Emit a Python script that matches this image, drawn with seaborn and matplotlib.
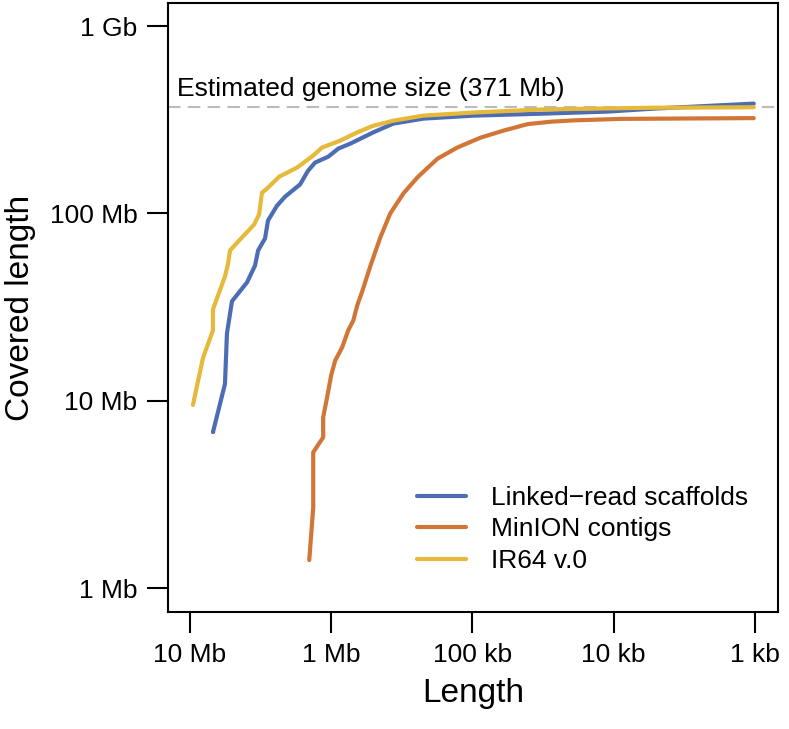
import numpy as np
import pandas as pd
import matplotlib
matplotlib.use("Agg")
import matplotlib.pyplot as plt
import seaborn as sns

# cumulative coverage curves, lengths and covered length in Mb
linked_len = [6.87, 5.65, 5.47, 5.04, 3.94, 3.46, 3.29, 2.94, 2.80, 2.42, 2.12, 1.80, 1.66,
              1.46, 1.30, 1.05, 0.891, 0.733, 0.504, 0.363, 0.223, 0.0984, 0.033, 0.011,
              0.0052, 0.00102]
linked_cov = [6.8, 12.3, 22.9, 34.0, 42.9, 52.8, 63.5, 73.6, 91.8, 110, 123, 136, 143,
              169, 187, 201, 222, 236, 271, 302, 321, 333, 341, 350, 363, 386]

minion_len = [1.43, 1.34, 1.34, 1.14, 1.14, 1.07, 1.0, 0.937, 0.836, 0.757, 0.698, 0.654,
              0.603, 0.530, 0.449, 0.382, 0.308, 0.245, 0.177, 0.128, 0.0877,
              0.0603, 0.0407, 0.0280, 0.0195, 0.0089, 0.00102]
minion_cov = [1.41, 2.70, 5.31, 6.38, 8.17, 10.4, 13.7, 16.4, 19.3, 23.8, 26.8, 32.3,
              38.4, 52.0, 74.5, 100, 128, 156, 196, 225, 254,
              277, 300, 309, 314, 320, 323]

ir64_len = [9.52, 8.09, 6.87, 6.87, 5.65, 5.37, 5.20, 4.42, 3.51, 3.24, 3.09, 2.84, 2.34,
            1.74, 1.34, 1.16, 0.863, 0.654, 0.504, 0.363, 0.223, 0.0984, 0.033, 0.011,
            0.0052, 0.00102]
ir64_cov = [9.5, 16.9, 23.8, 30.8, 46.1, 54.1, 63.5, 72.6, 87.3, 98.9, 129, 136, 157,
            176, 204, 225, 245, 271, 294, 313, 333, 346, 359, 364, 367, 369]

names = ["Linked\u2212read scaffolds", "MinION contigs", "IR64 v.0"]
colors = ["#4C6DB4", "#D27638", "#E6B93A"]
genome_size = 371

x_ticks = [10, 1, 0.1, 0.01, 0.001]
x_labels = ["10 Mb", "1 Mb", "100 kb", "10 kb", "1 kb"]
y_ticks = [1, 10, 100, 1000]
y_labels = ["1 Mb", "10 Mb", "100 Mb", "1 Gb"]

df = pd.concat([
    pd.DataFrame({"length": linked_len, "covered": linked_cov, "assembly": names[0]}),
    pd.DataFrame({"length": minion_len, "covered": minion_cov, "assembly": names[1]}),
    pd.DataFrame({"length": ir64_len, "covered": ir64_cov, "assembly": names[2]}),
], ignore_index=True)

sns.set_style("ticks")
plt.rcParams["font.family"] = ["Liberation Sans", "DejaVu Sans"]
plt.rcParams["text.color"] = "black"
plt.rcParams["axes.labelcolor"] = "black"
plt.rcParams["xtick.color"] = "black"
plt.rcParams["ytick.color"] = "black"

fig = plt.figure(figsize=(7.89, 7.29), dpi=100)
ax = fig.add_axes([168 / 789, 1 - 612 / 729, 610 / 789, 609 / 729])

ax.axhline(genome_size, color="#BBBBBB", lw=1.5, ls=(0, (6, 3.5)), zorder=1)
ax.text(0.015, 425, "Estimated genome size (%d Mb)" % genome_size, fontsize=19,
        color="black", transform=ax.get_yaxis_transform(), va="baseline", ha="left")

sns.lineplot(data=df, x="length", y="covered", hue="assembly", hue_order=names,
             palette=dict(zip(names, colors)), estimator=None, sort=False,
             linewidth=3, ax=ax)

ax.set_xscale("log")
ax.set_yscale("log")
ax.set_xlim(14.3, 0.000687)
ax.set_ylim(0.745, 1330)
ax.set_xticks(x_ticks)
ax.set_xticklabels(x_labels)
ax.set_yticks(y_ticks)
ax.set_yticklabels(y_labels)
ax.minorticks_off()
ax.tick_params(length=15, width=1.5, labelsize=19, pad=7, color="black", labelcolor="black")

for s in ax.spines.values():
    s.set_linewidth(1.5)
    s.set_color("black")

ax.set_xlabel("Length", fontsize=24, labelpad=8, color="black")
ax.set_ylabel("Covered length", fontsize=24, labelpad=10, color="black")

sns.move_legend(ax, "upper left", bbox_to_anchor=(417 / 789, 1 - 486 / 729),
                bbox_transform=fig.transFigure, title=None, frameon=False, fontsize=19,
                handlelength=1.85, handletextpad=0.95, labelspacing=0.28,
                borderpad=0, borderaxespad=0)
for line in ax.get_legend().get_lines():
    line.set_linewidth(3)
for t in ax.get_legend().get_texts():
    t.set_color("black")

fig.savefig("out.png", dpi=100)
